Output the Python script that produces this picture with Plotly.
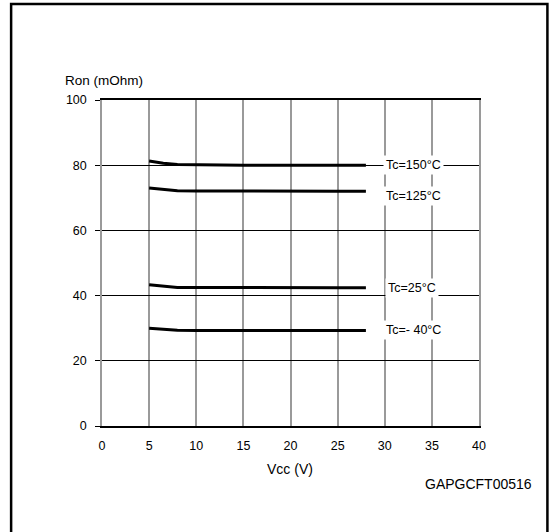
import plotly.graph_objects as go

vcc = [5, 6.5, 8, 10, 15, 20, 25, 28]
ron_150 = [81.3, 80.6, 80.2, 80.1, 80.0, 80.0, 80.0, 80.0]
ron_125 = [73.0, 72.5, 72.2, 72.1, 72.0, 72.0, 72.0, 72.0]
ron_25 = [43.3, 42.8, 42.5, 42.5, 42.4, 42.4, 42.4, 42.4]
ron_m40 = [30.0, 29.6, 29.4, 29.3, 29.3, 29.3, 29.3, 29.3]

series = [("Tc=150°C", ron_150), ("Tc=125°C", ron_125),
          ("Tc=25°C", ron_25), ("Tc=- 40°C", ron_m40)]
label_pos = [(33.0, 80.0), (33.0, 70.6), (32.9, 42.2), (33.0, 29.3)]

x_ticks = [0, 5, 10, 15, 20, 25, 30, 35, 40]
y_ticks = [0, 20, 40, 60, 80, 100]

W, H = 550, 532
ml, mr, mt, mb = 101.5, 71, 100, 106
pw, ph = W - ml - mr, H - mt - mb

def px(xp):
    return (xp - ml) / pw

def py(yp):
    return (H - mb - yp) / ph

fig = go.Figure()
for name, vals in series:
    fig.add_trace(go.Scatter(x=vcc, y=vals, mode="lines", name=name,
                             line=dict(color="black", width=3),
                             showlegend=False, hoverinfo="skip"))

font = "Liberation Sans, Arial, sans-serif"
annotations = []
for (name, _), (lx, ly) in zip(series, label_pos):
    annotations.append(dict(x=lx, y=ly, xref="x", yref="y", text=name,
                            showarrow=False, bgcolor="white",
                            font=dict(family=font, size=12.5, color="black"),
                            borderpad=2))
annotations += [
    dict(x=px(62), y=py(81), xref="paper", yref="paper", text="Ron (mOhm)",
         showarrow=False, xanchor="left", yanchor="middle",
         font=dict(family=font, size=13.5, color="black")),
    dict(x=px(290), y=py(469), xref="paper", yref="paper", text="Vcc (V)",
         showarrow=False, xanchor="center", yanchor="middle",
         font=dict(family=font, size=14, color="black")),
    dict(x=px(534), y=py(484), xref="paper", yref="paper", text="GAPGCFT00516",
         showarrow=False, xanchor="right", yanchor="middle",
         font=dict(family=font, size=14, color="black")),
]

frame = dict(type="path", xref="paper", yref="paper",
             path=f"M {px(10.5)},{py(540)} L {px(10.5)},{py(4)} L {px(547.5)},{py(4)} L {px(547.5)},{py(540)}",
             line=dict(color="black", width=2.5))

fig.update_layout(
    width=W, height=H,
    margin=dict(l=ml, r=mr, t=mt, b=mb),
    paper_bgcolor="white", plot_bgcolor="white",
    font=dict(family=font, size=12, color="black"),
    annotations=annotations,
    shapes=[frame],
    xaxis=dict(range=[0, 40], tickvals=x_ticks, ticktext=[str(v) for v in x_ticks],
               showgrid=True, gridcolor="#9a9a9a", gridwidth=1.5,
               showline=True, linecolor="black", linewidth=1.5, mirror=True,
               ticks="", zeroline=False, fixedrange=True, ticklabelstandoff=7,
               tickfont=dict(family=font, size=12.5)),
    yaxis=dict(range=[0, 100], tickvals=y_ticks, ticktext=[str(v) for v in y_ticks],
               showgrid=True, gridcolor="black", gridwidth=1,
               showline=True, linecolor="#9a9a9a", linewidth=1.5, mirror=True,
               ticks="outside", ticklen=5, tickcolor="black", tickwidth=1,
               zeroline=False, fixedrange=True, ticklabelstandoff=6,
               tickfont=dict(family=font, size=12.5)),
)

fig.write_html("out.html", config={"displayModeBar": False},
               post_script="document.body.style.margin='0';")
